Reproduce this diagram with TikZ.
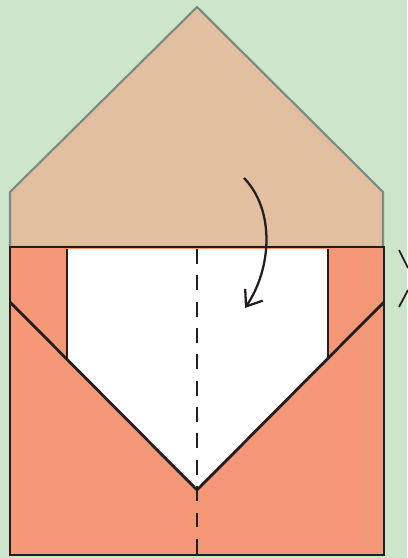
\documentclass[tikz,border=0pt]{standalone}
\usepackage{tikz}
\usetikzlibrary{arrows.meta}
\definecolor{bgreen}{HTML}{CDE6CB}
\definecolor{flaptan}{HTML}{E2BF9E}
\definecolor{bodysalmon}{HTML}{F59877}
\definecolor{inkdark}{HTML}{231F20}
\definecolor{flapedge}{HTML}{7B8A83}
\begin{document}
\begin{tikzpicture}[
  x=0.02cm, y=-0.02cm,
  edge/.style={line width=1.6pt, inkdark, line join=miter},
  flap/.style={fill=flaptan, draw=flapedge, line width=1.2pt, line join=miter},
  fold/.style={line width=1.6pt, inkdark, dash pattern=on 8.5pt off 6.5pt},
  turn/.style={-{Straight Barb[length=8pt, width=12pt]}, line width=1.3pt, inkdark},
]
  % background and frame
  \fill[bgreen] (0,0) rectangle (407,558);
  \useasboundingbox (0,0) rectangle (407,558);

  % top flap
  \draw[flap] (10,247) -- (10,192) -- (197,7) -- (383,192) -- (383,247) -- cycle;

  % envelope body
  \fill[bodysalmon] (10,247) rectangle (384,555);
  \fill[white] (67,249) -- (328,249) -- (328,357) -- (197,490) -- (67,360) -- cycle;
  \draw[edge] (10,302) -- (197,490) -- (384,302);
  \draw[edge] (67,249) -- (67,360);
  \draw[edge] (328,249) -- (328,357);
  \draw[edge] (10,247) rectangle (384,555);

  % fold line
  \draw[fold] (197,249) -- (197,558);

  % turn-down arrow
  \coordinate (from) at (244,178);
  \coordinate (to) at (245,308);
  \draw[turn] (from) .. controls (275,210) and (272,268) .. (to);

  % clipped mark at right edge
  \draw[line width=1pt, inkdark] (399,250) -- (408,268);
  \draw[line width=1pt, inkdark] (408,290) -- (399,307);
\end{tikzpicture}
\end{document}
